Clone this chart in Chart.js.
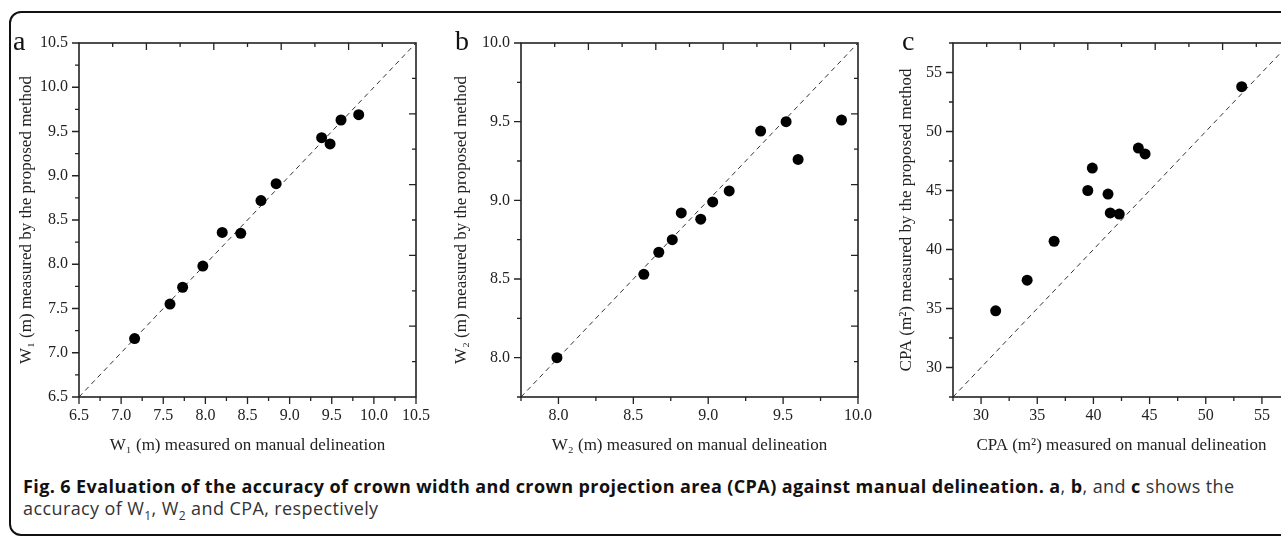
<!DOCTYPE html>
<html>
<head>
<meta charset="utf-8">
<script src="https://cdn.jsdelivr.net/npm/chart.js@4.4.1/dist/chart.umd.min.js"></script>
<style>
html, body { margin: 0; padding: 0; background: #fff; overflow: hidden; width: 1281px; height: 536px; }
#fig { position: absolute; left: 0; top: 0; width: 1330px; height: 536px; }
#frame { position: absolute; left: 9px; top: 11px; width: 1330px; height: 525px; border: 2px solid #111; border-radius: 12px; box-sizing: border-box; }
canvas { position: absolute; top: 0; }
.letter { position: absolute; top: 27px; font-family: "Liberation Serif", serif; font-size: 28px; line-height: 28px; color: #111; }
#caption { position: absolute; left: 23px; top: 475px; font-family: "Open Sans", sans-serif; font-size: 18px; letter-spacing: 0.4px; line-height: 22px; color: #333; white-space: nowrap; }
#caption b { color: #111; }
#caption sub { font-size: 12px; line-height: 0; }
</style>
</head>
<body>
<div id="fig">
  <div id="frame"></div>
  <canvas id="chartA" width="440" height="465" style="left:0px"></canvas>
  <canvas id="chartB" width="450" height="465" style="left:435px"></canvas>
  <canvas id="chartC" width="450" height="465" style="left:868px"></canvas>
  <div class="letter" style="left:13px">a</div>
  <div class="letter" style="left:455px">b</div>
  <div class="letter" style="left:902px">c</div>
  <div id="caption"><b>Fig. 6 Evaluation of the accuracy of crown width and crown projection area (CPA) against manual delineation. a</b>, <b>b</b>, and <b>c</b> shows the<br>accuracy of W<sub>1</sub>, W<sub>2</sub> and CPA, respectively</div>
</div>
<script>
// W1 (panel a): manual delineation vs proposed method
const w1Manual = [7.16, 7.58, 7.73, 7.97, 8.20, 8.42, 8.66, 8.84, 9.38, 9.48, 9.61, 9.82];
const w1Method = [7.16, 7.55, 7.74, 7.98, 8.36, 8.35, 8.72, 8.91, 9.43, 9.36, 9.63, 9.69];
const w1Range = [6.5, 10.5];
const w1Ticks = [6.5, 7.0, 7.5, 8.0, 8.5, 9.0, 9.5, 10.0, 10.5];

// W2 (panel b)
const w2Manual = [7.99, 8.57, 8.67, 8.76, 8.82, 8.95, 9.03, 9.14, 9.35, 9.52, 9.60, 9.89];
const w2Method = [8.00, 8.53, 8.67, 8.75, 8.92, 8.88, 8.99, 9.06, 9.44, 9.50, 9.26, 9.51];
const w2Range = [7.75, 10.0];
const w2Ticks = [8.0, 8.5, 9.0, 9.5, 10.0];

// CPA (panel c)
const cpaManual = [31.3, 34.1, 36.5, 39.5, 39.9, 41.3, 41.5, 42.3, 44.0, 44.6, 53.2];
const cpaMethod = [34.8, 37.4, 40.7, 45.0, 46.9, 44.7, 43.1, 43.0, 48.6, 48.1, 53.8];
const cpaRange = [27.5, 57.5];
const cpaTicks = [30, 35, 40, 45, 50, 55];

Chart.defaults.font.family = '"Liberation Serif", "Times New Roman", serif';
Chart.defaults.color = '#222';

// Box around the plot plus tick marks (out on bottom/left, in on top/right)
const frameTicks = {
    id: 'frameTicks',
    afterDraw(chart, args, opts) {
        const { ctx, chartArea: a } = chart;
        const xs = chart.scales.x, ys = chart.scales.y;
        const half = (opts.ticks[1] - opts.ticks[0]) / 2;
        const [min, max] = opts.range;
        const isMajor = v => opts.ticks.some(t => Math.abs(t - v) < 1e-6);

        ctx.save();
        ctx.strokeStyle = '#222';
        ctx.lineWidth = 1.6;
        ctx.strokeRect(a.left, a.top, a.right - a.left, a.bottom - a.top);

        ctx.lineWidth = 1.3;
        ctx.beginPath();
        const n = Math.round((max - min) / half);
        for (let i = 0; i <= n; i++) {
            const v = min + i * half;
            const len = isMajor(v) ? 7 : 4;
            const px = xs.getPixelForValue(v);
            const py = ys.getPixelForValue(v);
            ctx.moveTo(px, a.bottom); ctx.lineTo(px, a.bottom + len);
            ctx.moveTo(a.left, py); ctx.lineTo(a.left - len, py);
        }
        for (let i = 1; i < 10; i++) {
            const v = min + i * (max - min) / 10;
            const len = i % 2 === 0 ? 7 : 4;
            const px = xs.getPixelForValue(v);
            const py = ys.getPixelForValue(v);
            ctx.moveTo(px, a.top); ctx.lineTo(px, a.top + len);
            ctx.moveTo(a.right, py); ctx.lineTo(a.right - len, py);
        }
        ctx.stroke();
        ctx.restore();
    }
};

function makePanel(id, manual, method, range, ticks, decimals, xTitle, yTitle, geo) {
    const ctx = document.getElementById(id).getContext('2d');
    const points = manual.map((v, i) => ({ x: v, y: method[i] }));
    const oneToOne = [{ x: range[0], y: range[0] }, { x: range[1], y: range[1] }];
    const fmt = v => Number(v).toFixed(decimals);

    const axis = (title, titlePad, extra) => Object.assign({
        type: 'linear',
        min: range[0],
        max: range[1],
        grid: { display: false, drawTicks: false },
        border: { display: false },
        afterBuildTicks: s => { s.ticks = ticks.map(v => ({ value: v })); },
        title: { display: true, text: title, font: { size: 17 }, color: '#222', padding: titlePad }
    }, extra);

    return new Chart(ctx, {
        type: 'scatter',
        data: {
            datasets: [{
                data: points,
                pointRadius: 5.5,
                pointBackgroundColor: '#000',
                pointBorderWidth: 0,
                order: 0
            }, {
                data: oneToOne,
                showLine: true,
                borderColor: '#333',
                borderWidth: 1,
                borderDash: [5, 4],
                pointRadius: 0,
                order: 1
            }]
        },
        options: {
            responsive: false,
            animation: false,
            devicePixelRatio: 1,
            layout: { padding: { top: 43, left: 0, bottom: 0, right: geo.padRight } },
            plugins: {
                legend: { display: false },
                tooltip: { enabled: false },
                frameTicks: { range: range, ticks: ticks }
            },
            scales: {
                x: axis(xTitle, { top: 0, bottom: 9.5 }, {
                    position: 'bottom',
                    afterFit: s => { s.height = 68; },
                    ticks: { font: { size: 16 }, color: '#222', padding: 9, maxRotation: 0, callback: fmt }
                }),
                y: axis(yTitle, { top: geo.yTitlePad, bottom: 0 }, {
                    position: 'left',
                    afterFit: s => { s.width = geo.yWidth; },
                    ticks: { font: { size: 16 }, color: '#222', padding: 11, callback: fmt }
                })
            }
        },
        plugins: [frameTicks]
    });
}

document.addEventListener('DOMContentLoaded', function() {
    makePanel('chartA', w1Manual, w1Method, w1Range, w1Ticks, 1,
        'W\u2081 (m) measured on manual delineation',
        'W\u2081 (m) measured by the proposed method',
        { yWidth: 79, yTitlePad: 16.5, padRight: 24 });
    makePanel('chartB', w2Manual, w2Method, w2Range, w2Ticks, 1,
        'W\u2082 (m) measured on manual delineation',
        'W\u2082 (m) measured by the proposed method',
        { yWidth: 86, yTitlePad: 16.5, padRight: 27 });
    makePanel('chartC', cpaManual, cpaMethod, cpaRange, cpaTicks, 0,
        'CPA (m\u00b2) measured on manual delineation',
        'CPA (m\u00b2) measured by the proposed method',
        { yWidth: 85, yTitlePad: 28.5, padRight: 28 });
});
</script>
</body>
</html>
